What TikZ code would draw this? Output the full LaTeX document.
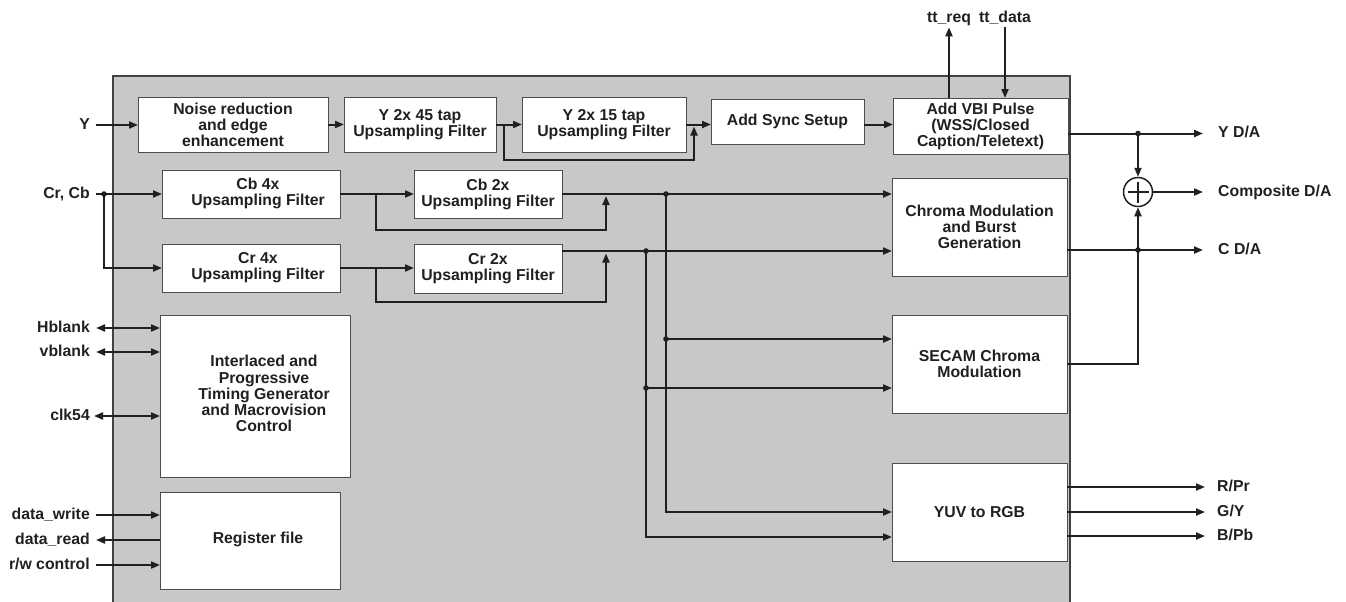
\documentclass[tikz,border=0pt]{standalone}
\usepackage{fontspec}
\setmainfont{Liberation Sans}
\usetikzlibrary{arrows.meta,calc}
\definecolor{bg}{RGB}{199,200,202}
\definecolor{ink}{RGB}{35,31,32}
\newcommand{\padtext}[2]{\begin{tabular}{@{\hspace{#1}}c@{}}#2\end{tabular}}
\begin{document}
\begin{tikzpicture}[x=1pt,y=-1pt,
  every node/.style={font=\fontsize{15.8}{16}\selectfont\bfseries, text=ink},
  blk/.style={draw=ink!80, line width=1pt, fill=white, inner sep=0pt, outer sep=0pt, align=center},
  lab/.style={inner sep=0pt, text height=11.3pt, text depth=3pt},
  conn/.style={draw=ink, line width=2pt},
  arr/.style={conn, -{Triangle[length=9pt,width=7pt]}},
  darr/.style={conn, {Triangle[length=9pt,width=7pt]}-{Triangle[length=9pt,width=7pt]}}
]
\useasboundingbox (0,0) rectangle (1346,602);
% chip background
\fill[bg] (113,76) rectangle (1070,612);
\draw[ink!85, line width=1.5pt] (113,612) -- (113,76) -- (1070,76) -- (1070,612);

% blocks
\node[blk, minimum width=190pt, minimum height=55pt] (noise) at (233,124.5) {Noise reduction\\and edge\\enhancement};
\node[blk, minimum width=152pt, minimum height=55pt] (y45) at (420,124.5) {Y 2x 45 tap\\Upsampling Filter};
\node[blk, minimum width=164pt, minimum height=55pt] (y15) at (604,124.5) {Y 2x 15 tap\\Upsampling Filter};
\node[blk, minimum width=153pt, minimum height=45pt] (sync) at (787.5,121.5) {Add Sync Setup};
\node[blk, minimum width=175pt, minimum height=56pt] (vbi) at (980.5,126) {Add VBI Pulse\\(WSS/Closed\\Caption/Teletext)};
\node[blk, minimum width=178pt, minimum height=48pt] (cb4) at (251,194) {\padtext{14pt}{Cb 4x\\Upsampling Filter}};
\node[blk, minimum width=178pt, minimum height=48pt] (cr4) at (251,268) {\padtext{14pt}{Cr 4x\\Upsampling Filter}};
\node[blk, minimum width=148pt, minimum height=48pt] (cb2) at (488,194) {Cb 2x\\Upsampling Filter};
\node[blk, minimum width=148pt, minimum height=49pt] (cr2) at (488,268.5) {Cr 2x\\Upsampling Filter};
\node[blk, minimum width=175pt, minimum height=98pt] (chroma) at (979.5,227) {Chroma Modulation\\and Burst\\Generation};
\node[blk, minimum width=175pt, minimum height=98pt] (secam) at (979.5,364) {SECAM Chroma\\Modulation};
\node[blk, minimum width=175pt, minimum height=98pt] (yuv) at (979.5,512) {YUV to RGB};
\node[blk, minimum width=190pt, minimum height=162pt] (timing) at (255,396) {\padtext{18pt}{Interlaced and\\Progressive\\Timing Generator\\and Macrovision\\Control}};
\node[blk, minimum width=180pt, minimum height=97pt] (reg) at (250,540.5) {\padtext{16pt}{Register file}};
\node[circle, draw=ink, line width=1.5pt, minimum size=29pt, inner sep=0pt, fill=white] (sum) at (1138,192) {};
\draw[ink, line width=1.5pt] ([yshift=10.5pt]sum.center) -- ([yshift=-10.5pt]sum.center)
  ([xshift=-10.5pt]sum.center) -- ([xshift=10.5pt]sum.center);

% labels
\node[lab, anchor=east] (ylab) at (90,125) {Y};
\node[lab, anchor=east] (crcb) at (90,194) {Cr, Cb};
\node[lab, anchor=east] (hbl) at (90,328) {Hblank};
\node[lab, anchor=east] (vbl) at (90,352) {vblank};
\node[lab, anchor=east] (clk) at (90,416) {clk54};
\node[lab, anchor=east] (dw) at (90,515) {data\_write};
\node[lab, anchor=east] (dr) at (90,540) {data\_read};
\node[lab, anchor=east] (rw) at (90,565) {r/w control};
\node[lab] (ttreq) at (949,18) {tt\_req};
\node[lab] (ttdata) at (1005,18) {tt\_data};
\node[lab, anchor=west] (yda) at (1218,133.5) {Y D/A};
\node[lab, anchor=west] (cmp) at (1218,192) {Composite D/A};
\node[lab, anchor=west] (cda) at (1218,250) {C D/A};
\node[lab, anchor=west] (rpr) at (1217,487) {R/Pr};
\node[lab, anchor=west] (gy) at (1217,512) {G/Y};
\node[lab, anchor=west] (bpb) at (1217,536) {B/Pb};

% junction coordinates
\coordinate (jin) at (104,194);
\coordinate (jy1) at (504,124.5);
\coordinate (jy2) at (694,126.5);
\coordinate (jb1) at (376,194);
\coordinate (bt1) at (606,196);
\coordinate (jb2) at (376,268);
\coordinate (bt2) at (606,253.5);
\coordinate (cro) at (562,251);
\coordinate (jcb) at (666,194);
\coordinate (jcr) at (646,251);
\coordinate (js1) at (666,339);
\coordinate (js2) at (646,388);
\coordinate (jyo) at (1138,133.5);
\coordinate (jco) at (1138,250);

% luma path
\draw[arr] ([xshift=6pt]ylab.east) -- (noise.west |- ylab.east);
\draw[arr] (noise.east) -- (y45.west);
\draw[arr] (y45.east) -- (y15.west);
\draw[arr] (jy1) -- ++(0,35.5) -| (jy2);
\draw[arr] (y15.east) -- (sync.west |- y15.east);
\draw[arr] (sync.east |- y15.east) -- (vbi.west |- y15.east);
\draw[arr] (vbi.north -| ttreq) -- ([yshift=-2pt]ttreq.south);
\draw[arr] ([yshift=-2pt]ttdata.south) -- (vbi.north -| ttdata);
\draw[arr] (vbi.east |- yda.west) -- ([xshift=-15pt]yda.west);
\draw[arr] (jyo) -- (sum.north);
\draw[arr] (sum.east) -- ([xshift=-15pt]cmp.west);
\draw[arr] (chroma.east |- cda.west) -- ([xshift=-15pt]cda.west);
\draw[arr] (secam.east) -| (sum.south);

% chroma path
\draw[arr] ([xshift=6pt]crcb.east) -- (cb4.west);
\draw[arr] (jin) |- (cr4.west);
\draw[arr] (cb4.east) -- (cb2.west);
\draw[arr] (jb1) -- ++(0,36) -| (bt1);
\draw[arr] (cr4.east) -- (cr2.west |- cr4.east);
\draw[arr] (jb2) -- ++(0,34) -| (bt2);
\draw[arr] (cb2.east) -- (chroma.west |- cb2.east);
\draw[arr] (cro) -- (chroma.west |- cro);
\draw[arr] (js1) -- (secam.west |- js1);
\draw[arr] (js2) -- (secam.west |- js2);
\draw[arr] (jcb) |- (yuv.west);
\draw[arr] (jcr) |- ([yshift=-25pt]yuv.west);

% RGB outputs
\draw[arr] (yuv.east |- rpr.west) -- ([xshift=-12pt]rpr.west);
\draw[arr] (yuv.east |- gy.west) -- ([xshift=-12pt]gy.west);
\draw[arr] (yuv.east |- bpb.west) -- ([xshift=-12pt]bpb.west);

% timing and register file
\draw[darr] ([xshift=6pt]hbl.east) -- (timing.west |- hbl.east);
\draw[darr] ([xshift=6pt]vbl.east) -- (timing.west |- vbl.east);
\draw[darr] ([xshift=4pt]clk.east) -- (timing.west |- clk.east);
\draw[arr] ([xshift=6pt]dw.east) -- (reg.west |- dw.east);
\draw[arr] (reg.west |- dr.east) -- ([xshift=6pt]dr.east);
\draw[arr] ([xshift=6pt]rw.east) -- (reg.west |- rw.east);

% junction dots
\foreach \p in {jin,jcb,jcr,js1,js2,jyo,jco}
  \fill[ink] (\p) circle[radius=2.8];
\end{tikzpicture}
\end{document}
